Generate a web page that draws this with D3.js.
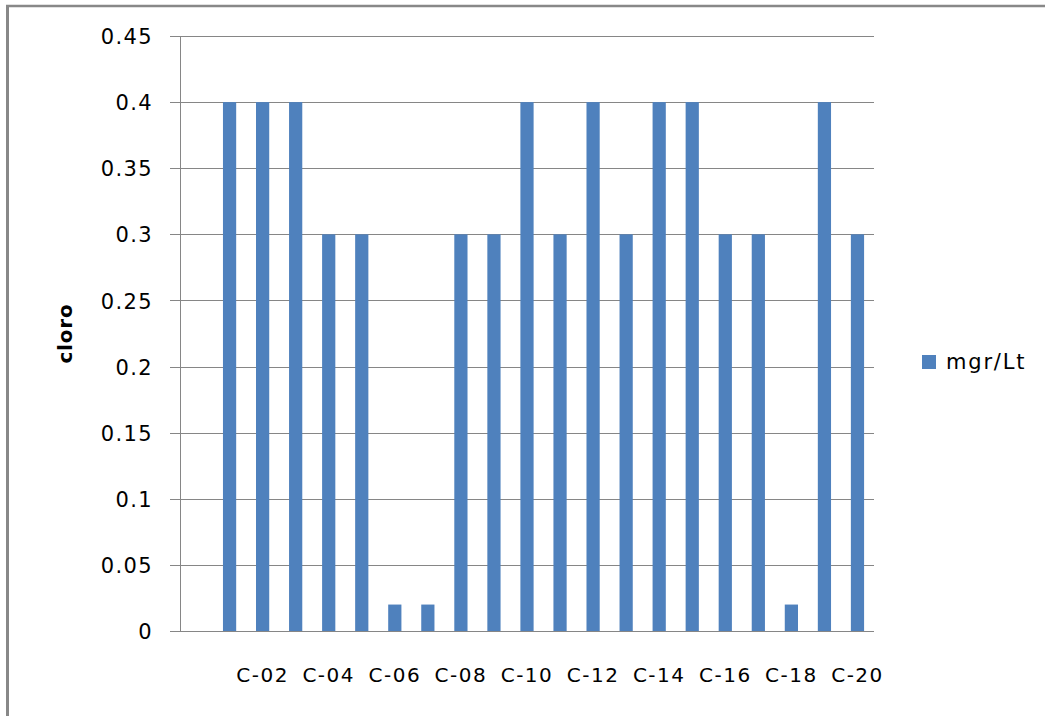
<!DOCTYPE html>
<html>
<head>
<meta charset="utf-8">
<script src="https://cdn.jsdelivr.net/npm/d3@7"></script>
<style>
  html, body { margin: 0; padding: 0; background: #fff; }
  svg { display: block; }
  text { font-family: "DejaVu Sans", sans-serif; fill: #000; }
</style>
</head>
<body>
<svg id="chart" width="1045" height="716"></svg>
<script>
// Chlorine readings per sampling point (first slot is an empty category)
const categories = ["", "C-01", "C-02", "C-03", "C-04", "C-05", "C-06", "C-07", "C-08", "C-09", "C-10",
                    "C-11", "C-12", "C-13", "C-14", "C-15", "C-16", "C-17", "C-18", "C-19", "C-20"];
const values = [null, 0.4, 0.4, 0.4, 0.3, 0.3, 0.02, 0.02, 0.3, 0.3, 0.4,
                0.3, 0.4, 0.3, 0.4, 0.4, 0.3, 0.3, 0.02, 0.4, 0.3];
const yTicks = [0, 0.05, 0.1, 0.15, 0.2, 0.25, 0.3, 0.35, 0.4, 0.45];
const xTickLabels = ["", "C-02", "C-04", "C-06", "C-08", "C-10", "C-12", "C-14", "C-16", "C-18", "C-20"];
const seriesName = "mgr/Lt";
const axisTitle = "cloro";

const svg = d3.select("#chart");
const plot = { left: 180, right: 874, top: 36, bottom: 631 };
const barColor = "#4F81BD";
const lineColor = "#868686";

// Outer chart frame (top and left edges visible)
svg.append("line").attr("x1", 6).attr("x2", 1045).attr("y1", 6).attr("y2", 6)
  .attr("stroke", "#888").attr("stroke-width", 2.5);
svg.append("line").attr("x1", 7.5).attr("x2", 7.5).attr("y1", 5).attr("y2", 716)
  .attr("stroke", "#888").attr("stroke-width", 3);

const x = d3.scaleBand().domain(categories.map((c, i) => i))
  .range([plot.left, plot.right]).paddingInner(0.6).paddingOuter(0.3);
const y = d3.scaleLinear().domain([0, 0.45]).range([plot.bottom, plot.top]);

// Horizontal gridlines with short tick stubs left of the axis
const yAxis = d3.axisLeft(y).tickValues(yTicks)
  .tickSize(-(plot.right - plot.left)).tickFormat(d3.format("~g"));
const yg = svg.append("g").attr("transform", `translate(${plot.left},0)`).call(yAxis);
yg.select(".domain").remove();
yg.selectAll(".tick line").attr("stroke", lineColor).attr("stroke-width", 1)
  .attr("x1", -10).attr("shape-rendering", "crispEdges");
yg.selectAll(".tick text")
  .attr("x", -27).attr("dy", "0.36em")
  .style("font-size", "21px").style("letter-spacing", "1.4px")
  .attr("text-anchor", "end").attr("fill", "#000")
  .text(d => d === 0 ? "0" : String(d));

// Bars
svg.append("g").selectAll("rect")
  .data(values.map((v, i) => ({ i, v })).filter(d => d.v != null))
  .join("rect")
  .attr("x", d => x(d.i))
  .attr("width", x.bandwidth())
  .attr("y", d => y(d.v))
  .attr("height", d => y(0) - y(d.v))
  .attr("fill", barColor);

// Axis lines
svg.append("line").attr("x1", plot.left).attr("x2", plot.left)
  .attr("y1", plot.top).attr("y2", plot.bottom)
  .attr("stroke", lineColor).attr("shape-rendering", "crispEdges");
svg.append("line").attr("x1", plot.left - 10).attr("x2", plot.right)
  .attr("y1", plot.bottom).attr("y2", plot.bottom)
  .attr("stroke", lineColor).attr("shape-rendering", "crispEdges");

// Category labels, every other slot
const xAxis = d3.axisBottom(x)
  .tickValues(categories.map((c, i) => i).filter(i => i % 2 === 0))
  .tickSize(0).tickFormat(i => xTickLabels[i / 2]);
const xg = svg.append("g").attr("transform", `translate(0,${plot.bottom})`).call(xAxis);
xg.select(".domain").remove();
xg.selectAll(".tick text")
  .attr("y", 51).attr("dy", 0)
  .style("font-size", "20px").style("letter-spacing", "1.5px")
  .attr("fill", "#000");

// Y axis title
svg.append("text")
  .attr("transform", `translate(72,${(plot.top + plot.bottom) / 2}) rotate(-90)`)
  .attr("text-anchor", "middle")
  .style("font-size", "20px").style("font-weight", "bold").style("letter-spacing", "0.8px")
  .text(axisTitle);

// Legend
const lg = svg.append("g").attr("transform", "translate(922,355)");
lg.append("rect").attr("width", 14).attr("height", 14).attr("fill", barColor);
lg.append("text").attr("x", 24).attr("y", 14)
  .style("font-size", "21px").style("letter-spacing", "1.8px")
  .text(seriesName);
</script>
</body>
</html>
